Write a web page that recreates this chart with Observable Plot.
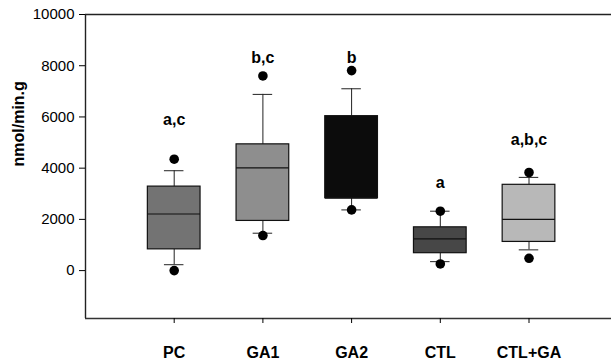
<!DOCTYPE html>
<html>
<head>
<meta charset="utf-8">
<script src="https://cdn.jsdelivr.net/npm/d3@7"></script>
<script src="https://cdn.jsdelivr.net/npm/@observablehq/plot@0.6"></script>
<style>
  html, body { margin: 0; padding: 0; background: #fff; }
  svg { display: block; }
</style>
</head>
<body>
<div id="chart"></div>
<script>
// Groups and box statistics (nmol/min.g)
const groups    = ["PC", "GA1", "GA2", "CTL", "CTL+GA"];
const lowDot    = [0, 1370, 2370, 260, 480];
const lowCap    = [230, 1460, 2370, 350, 810];
const q1        = [830, 1940, 2830, 680, 1120];
const median    = [2210, 4010, 2830, 1240, 2000];
const q3        = [3280, 4930, 6030, 1690, 3350];
const highCap   = [3900, 6880, 7100, 2320, 3640];
const highDot   = [4350, 7600, 7810, 2320, 3830];
const letters   = ["a,c", "b,c", "b", "a", "a,b,c"];
const letterAt  = [5900, 8320, 8320, 3410, 5100];
const fills     = ["#737373", "#8e8e8e", "#0c0c0c", "#474747", "#b8b8b8"];
const yTicks    = [0, 2000, 4000, 6000, 8000, 10000];
const yMin = -1870, yMax = 10000;

const data = groups.map((g, i) => ({
  g, pos: i + 1, lowDot: lowDot[i], lowCap: lowCap[i], q1: q1[i], median: median[i],
  q3: q3[i], highCap: highCap[i], highDot: highDot[i], letter: letters[i],
  letterAt: letterAt[i], fill: fills[i]
}));
const dots = data.flatMap(d => [{pos: d.pos, v: d.lowDot}, {pos: d.pos, v: d.highDot}]);

const hw = 0.297, cw = 0.11;
const font = "Liberation Sans, Arial, Helvetica, sans-serif";

const chart = Plot.plot({
  width: 611,
  height: 364,
  marginLeft: 85,
  marginRight: 0,
  marginTop: 14,
  marginBottom: 46,
  style: {fontFamily: font, background: "#fff", color: "#000"},
  x: {type: "linear", domain: [0, 5.93]},
  y: {domain: [yMin, yMax]},
  marks: [
    // frame lines
    Plot.ruleY([yMax], {stroke: "#222", strokeWidth: 1.6}),
    Plot.ruleY([yMin], {stroke: "#333", strokeWidth: 1.4}),
    Plot.ruleX([0], {stroke: "#222", strokeWidth: 1.4}),
    // whiskers
    Plot.ruleX(data, {x: "pos", y1: "q3", y2: "highCap", stroke: "#222", strokeWidth: 1}),
    Plot.ruleX(data, {x: "pos", y1: "q1", y2: "lowCap", stroke: "#222", strokeWidth: 1}),
    Plot.ruleY(data, {y: "highCap", x1: d => d.pos - cw, x2: d => d.pos + cw, stroke: "#222", strokeWidth: 1}),
    Plot.ruleY(data, {y: "lowCap", x1: d => d.pos - cw, x2: d => d.pos + cw, stroke: "#222", strokeWidth: 1}),
    // boxes
    Plot.rect(data, {x1: d => d.pos - hw, x2: d => d.pos + hw, y1: "q1", y2: "q3",
      fill: "fill", stroke: "#111", strokeWidth: 1.2}),
    Plot.ruleY(data, {y: "median", x1: d => d.pos - hw, x2: d => d.pos + hw, stroke: "#111", strokeWidth: 1.2}),
    // outlier dots
    Plot.dot(dots, {x: "pos", y: "v", r: 4.8, fill: "#000", stroke: "none"}),
    // significance letters
    Plot.text(data, {x: "pos", y: "letterAt", text: "letter", fontSize: 16, fontWeight: "bold", fill: "#000"}),
    // axes
    Plot.axisY({ticks: yTicks, tickSize: 6, tickPadding: 5, fontSize: 15, label: null, tickFormat: d => String(d)}),
    Plot.axisX({ticks: groups.map((g, i) => i + 1), tickFormat: d => groups[d - 1], tickSize: 5,
      tickPadding: 23, fontSize: 16, fontWeight: "bold", label: null}),
    Plot.text(["nmol/min.g"], {frameAnchor: "left", dx: -67, rotate: -90, fontSize: 16,
      fontWeight: "bold", fill: "#000", text: d => d})
  ]
});
document.getElementById("chart").appendChild(chart);
</script>
</body>
</html>
